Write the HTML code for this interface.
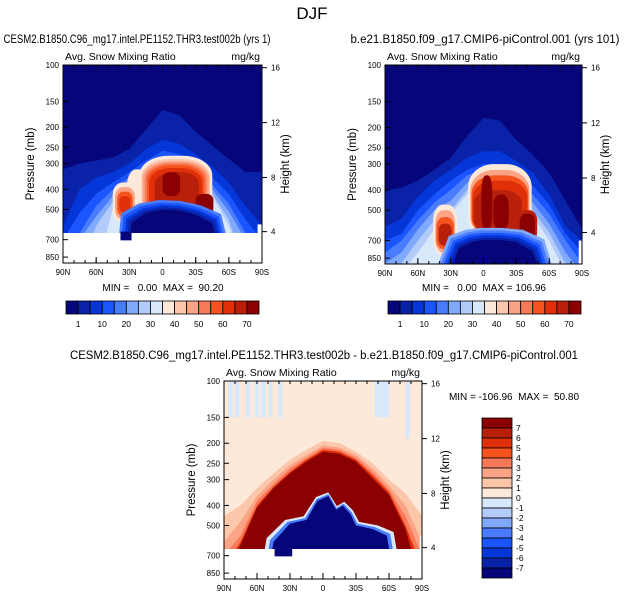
<!DOCTYPE html>
<html><head><meta charset="utf-8">
<style>
body{margin:0;background:#fff;}
svg{display:block;font-family:"Liberation Sans",sans-serif;}
text{white-space:pre;}
</style></head>
<body>
<svg id="fig" width="624" height="602" viewBox="0 0 624 602" xmlns="http://www.w3.org/2000/svg">
<text x="312" y="19" font-size="17" text-anchor="middle">DJF</text>
<g id="root"></g>
</svg>
<script>
// ---------- data ----------
const lats = [90,75,60,45,30,15,0,-15,-30,-45,-60,-75,-90];
const seqColors = ["#06067a","#0a22a8","#0536d8","#1a55ff","#4a7cff","#80a8fb","#b3cbfb","#d8e8fb","#fde9d9","#fcc6ab","#fba485","#f87a58","#f7531f","#e0300a","#b8200a","#8b0000"];
const seqLabels = ["1","10","20","30","40","50","60","70"];
const diffLabels = ["7","6","5","4","3","2","1","0","-1","-2","-3","-4","-5","-6","-7"];
const pTicks = [100,150,200,250,300,400,500,700,850];
const hTicks = [16,12,8,4];
const hTickP = [103,190,350,640];
const latLabels = ["90N","60N","30N","0","30S","60S","90S"];
const latTickVals = [90,60,30,0,-30,-60,-90];

// panel A (test002b) domes: top pressure at each latitude
const aDomes = [
 [1,[320,300,290,280,255,205,165,175,210,245,285,330,330]],
 [2,[600,400,350,330,300,255,230,240,270,310,370,480,600]],
 [3,[700,520,420,370,330,290,260,270,300,350,420,560,700]],
 [4,[700,650,480,400,350,310,280,285,320,380,470,650,700]],
 [5,[1000,700,540,430,370,330,290,295,335,400,510,700,1000]],
 [6,[1000,1000,600,460,390,345,300,300,345,420,560,1000,1000]],
 [7,[1000,1000,1000,500,400,355,310,305,350,430,600,1000,1000]]];
// blobs: [level, latCentre, latRadius, pTop, pBottom]
const aBlobs = [
 [8,22,10,320,560],
 [8,34,11,370,580],[10,34,9,390,560],[12,34,7,410,540],[13,34,5,430,520],
 [8,-12,33,275,565],[9,-12,31,285,555],[10,-12,30,292,548],[11,-12,28,298,540],[12,-12,26,305,530],
 [13,-12,24,315,520],[14,-13,20,330,510],[15,-8,8,330,430],[15,-38,8,420,530]];
const aCavity = [[32,1000],[28,580],[15,520],[0,500],[-15,505],[-30,530],[-45,585],[-55,1000]];

// panel B (piControl)
const bDomes = [
 [1,[400,390,360,320,280,220,180,185,230,270,330,450,620]],
 [2,[600,550,430,360,320,280,260,260,290,330,420,600,700]],
 [3,[700,650,500,420,360,320,300,300,330,380,470,650,800]],
 [4,[800,700,560,460,400,340,320,320,360,420,520,700,900]],
 [5,[900,800,620,500,450,370,330,330,390,460,580,800,1000]],
 [6,[1000,900,700,560,500,400,330,330,410,500,640,900,1000]],
 [7,[1000,1000,800,620,520,420,330,330,420,530,700,1000,1000]]];
const bBlobs = [
 [8,35,11,470,830],[10,35,9,500,800],[12,35,8,540,770],[14,35,6,580,740],
 [8,-15,29,300,690],[10,-15,27,320,675],[12,-15,26,340,665],[13,-15,25,360,655],
 [14,-13,22,400,645],[15,-3,5,340,620],[15,-16,7,420,620],[14,-40,9,500,710],[15,-40,7,520,700]];
const bCavity = [[32,1000],[22,760],[10,710],[0,695],[-15,695],[-30,710],[-45,790],[-52,1000]];

// panel C (difference)
const cDomes = [
 [9,[450,400,330,280,240,215,195,200,220,250,300,350,450]],
 [10,[600,480,360,300,255,228,205,210,228,265,320,400,600]],
 [11,[700,560,380,315,265,235,210,215,235,275,335,450,700]],
 [13,[800,600,400,325,275,240,215,220,240,285,345,500,800]],
 [15,[1000,620,410,330,280,245,220,225,245,295,355,520,1000]]];
const cBlobs = [];
const cCavity = [[52,1000],[45,600],[30,490],[15,470],[5,380],[-5,360],[-12,420],[-18,400],[-25,440],[-30,500],[-45,520],[-58,560],[-66,1000]];

const W = "http://www.w3.org/2000/svg";
const root = document.getElementById('root');
function mk(tag, attrs, parent){const e=document.createElementNS(W,tag);for(const k in attrs)e.setAttribute(k,attrs[k]);(parent||root).appendChild(e);return e;}

function panel(o){
  const g = mk('g',{});
  
  
  const x0=o.x0,x1=o.x1,y0=o.y0,y1=o.y1;
  const X = lat => x0 + (90-lat)/180*(x1-x0);
  const Y = p => y0 + (1-Math.log10(1000/p))*206.7*(y1-y0)/198;
  const cid='clip'+o.id;
  const cp=mk('clipPath',{id:cid},g); mk('rect',{x:x0,y:y0,width:x1-x0,height:y1-y0},cp);
  const pg=mk('g',{'clip-path':'url(#'+cid+')'},g);
  const bgr=mk('rect',{x:x0,y:y0,width:x1-x0,height:y1-y0,fill:o.bg},pg);
  
  
  if(o.stripes){o.stripes.forEach(s=>{const r=mk('rect',{x:X(s[0]),y:Y(100),width:X(s[1])-X(s[0]),height:Y(s[2])-Y(100),fill:'#d8e8fb'},pg);
    
    });}
  o.domes.forEach(d=>{
    let pts=lats.map((la,i)=>X(la)+','+Y(d[1][i]));
    pts.push(X(-90)+','+Y(1000)); pts.push(X(90)+','+Y(1000));
    const pl=mk('polygon',{points:pts.join(' '),fill:o.colors[d[0]],'stroke-linejoin':'round'},pg);
    
    
  });
  o.blobs.forEach(b=>{
    const yt=Y(b[3]), yb=Y(b[4]), xl=X(b[1]+b[2]), xr=X(b[1]-b[2]);
    const el=mk('rect',{x:xl,y:yt,width:xr-xl,height:yb-yt,rx:(xr-xl)*0.4,ry:(yb-yt)*0.3,fill:o.colors[b[0]]},pg);
    
    
  });
  const n=o.ringColors.length;
  o.ringColors.forEach((c,k)=>{
    const s=n-k;
    const cl=(o.cavity[0][0]+o.cavity[o.cavity.length-1][0])/2;
    const pts=o.cavity.map(q=>X(cl+(q[0]-cl)*(1+0.06*s))+','+Y(q[1]>=990?1000:q[1]*(1-o.ringStep*s)));
    const pl=mk('polygon',{points:pts.join(' '),fill:c},pg);
    
    
  });
  const cav=mk('polygon',{points:o.cavity.map(q=>X(q[0])+','+Y(q[1])).join(' '),fill:o.cavColor},pg);
  
  
  if(o.notch){const nn=mk('rect',{x:X(o.notch[0]),y:Y(640),width:X(o.notch[1])-X(o.notch[0]),height:Y(705)-Y(640),fill:o.notch[2]},pg);
    
    }
  if(o.ground){const m=mk('path',{d:o.ground(X,Y),fill:'#fff'},pg);
    
    }
  const fr=mk('rect',{x:x0,y:y0,width:x1-x0,height:y1-y0,fill:'none',stroke:'#000','stroke-width':1},g);
  
  
  pTicks.forEach(p=>{const y=Y(p);
    mk('line',{x1:x0,x2:x0+5,y1:y,y2:y,stroke:'#000'},g);
    const t=mk('text',{x:x0-4,y:y+3,'font-size':8,'text-anchor':'end'},g);t.textContent=p;
    
    });
  hTicks.forEach((h,i)=>{const y=Y(hTickP[i]);
    mk('line',{x1:x1,x2:x1+5,y1:y,y2:y,stroke:'#000'},g);
    const t=mk('text',{x:x1+9,y:y+3,'font-size':8},g);t.textContent=h;
    
    });
  for(let la=90;la>=-90;la-=10){const x=X(la);mk('line',{x1:x,x2:x,y1:y0,y2:y0+3,stroke:'#000'},g);mk('line',{x1:x,x2:x,y1:y1,y2:y1-3,stroke:'#000'},g);}
  latTickVals.forEach((la,i)=>{const x=X(la);mk('line',{x1:x,x2:x,y1:y1,y2:y1-6,stroke:'#000'},g);
    const t=mk('text',{x:x,y:y1+12,'font-size':8,'text-anchor':'middle'},g);t.textContent=latLabels[i];
    
    });
  const yl=mk('text',{transform:`translate(${x0-29},${(y0+y1)/2}) rotate(-90)`,'font-size':11.5,'text-anchor':'middle'},g);yl.textContent='Pressure (mb)';
  
  
  const hl=mk('text',{transform:`translate(${x1+27},${(y0+y1)/2}) rotate(-90)`,'font-size':11.5,'text-anchor':'middle'},g);hl.textContent='Height (km)';
  
  
  const st=mk('text',{x:x0+2,y:y0-5,'font-size':10.5},g);st.textContent='Avg. Snow Mixing Ratio';
  
  
  const un=mk('text',{x:x1-2,y:y0-5,'font-size':10.5,'text-anchor':'end'},g);un.textContent='mg/kg';
  
  
  const tt=mk('text',{x:o.titleX,y:y0-22,'font-size':11.5,'text-anchor':'middle',textLength:o.titleLen,lengthAdjust:'spacingAndGlyphs'},g);tt.textContent=o.title;
  
  
  const mm=mk('text',{x:o.mmX,y:o.mmY,'font-size':10,'text-anchor':'middle'},g);mm.textContent=o.minmax;
  
  
}

function hbar(x0,x1,y0,h,name){
  const g=mk('g',{});
  
  
  const w=(x1-x0)/seqColors.length;
  seqColors.forEach((c,i)=>{const r=mk('rect',{x:x0+i*w,y:y0,width:w,height:h,fill:c,stroke:'#000','stroke-width':0.8},g);
    
    });
  seqLabels.forEach((l,i)=>{const t=mk('text',{x:x0+(2*i+1)*w,y:y0+h+13,'font-size':8.5,'text-anchor':'middle'},g);t.textContent=l;
    
    });
}
function vbar(x0,x1,y0,y1){
  const g=mk('g',{});
  
  
  const h=(y1-y0)/seqColors.length;
  seqColors.slice().reverse().forEach((c,i)=>{const r=mk('rect',{x:x0,y:y0+i*h,width:x1-x0,height:h,fill:c,stroke:'#000','stroke-width':0.8},g);
    
    });
  diffLabels.forEach((l,i)=>{const t=mk('text',{x:x1+4,y:y0+(i+1)*h+3,'font-size':8.5},g);t.textContent=l;
    
    });
}

panel({id:'a',name:'panel-test002b',x0:63,x1:262,y0:65,y1:263,bg:seqColors[0],colors:seqColors,domes:aDomes,blobs:aBlobs,
  cavity:aCavity,cavColor:seqColors[0],ringColors:[seqColors[4],seqColors[3],seqColors[2],seqColors[1]],ringStep:0.025,
  notch:[38,28,seqColors[0]],
  ground:(X,Y)=>`M${X(90)},${Y(650)} L${X(38)},${Y(650)} L${X(38)},${Y(705)} L${X(28)},${Y(705)} L${X(28)},${Y(650)} L${X(-86)},${Y(650)} L${X(-86)},${Y(590)} L${X(-90)},${Y(590)} L${X(-90)},${Y(1100)} L${X(90)},${Y(1100)} Z`,
  title:'CESM2.B1850.C96_mg17.intel.PE1152.THR3.test002b (yrs 1)',titleX:137,titleLen:267,minmax:'MIN =   0.00  MAX =  90.20',mmX:163,mmY:291});
hbar(66,259,301,13,'colorbar-test002b');

panel({id:'b',name:'panel-picontrol',x0:385,x1:582,y0:65,y1:264,bg:seqColors[0],colors:seqColors,domes:bDomes,blobs:bBlobs,
  cavity:bCavity,cavColor:seqColors[0],ringColors:[seqColors[5],seqColors[4],seqColors[3],seqColors[2],seqColors[1]],ringStep:0.025,
  ground:(X,Y)=>`M${X(-87)},${Y(700)} L${X(-90)},${Y(700)} L${X(-90)},${Y(1100)} L${X(-87)},${Y(1100)} Z`,
  title:'b.e21.B1850.f09_g17.CMIP6-piControl.001 (yrs 101)',titleX:485,titleLen:269,minmax:'MIN =   0.00  MAX = 106.96',mmX:484,mmY:291});
hbar(388,581,301,13,'colorbar-picontrol');

panel({id:'c',name:'panel-difference',x0:224,x1:422,y0:381,y1:579,bg:seqColors[8],colors:seqColors,domes:cDomes,blobs:cBlobs,
  stripes:[[86,82,150],[80,76,150],[70,66,150],[62,58,150],[56,52,150],[49,46,150],[41,37,150],[-47,-60,150],[-75,-79,190]],
  cavity:cCavity,cavColor:seqColors[0],ringColors:[seqColors[7],seqColors[4]],ringStep:0.02,
  notch:[44,28,seqColors[0]],
  ground:(X,Y)=>`M${X(90)},${Y(650)} L${X(44)},${Y(650)} L${X(44)},${Y(705)} L${X(28)},${Y(705)} L${X(28)},${Y(650)} L${X(-88)},${Y(650)} L${X(-88)},${Y(560)} L${X(-90)},${Y(560)} L${X(-90)},${Y(1100)} L${X(90)},${Y(1100)} Z`,
  title:'CESM2.B1850.C96_mg17.intel.PE1152.THR3.test002b - b.e21.B1850.f09_g17.CMIP6-piControl.001',titleX:324,titleLen:508,minmax:'MIN = -106.96  MAX =  50.80',mmX:514,mmY:400});
vbar(482,512,418,578);
</script>
</body></html>
